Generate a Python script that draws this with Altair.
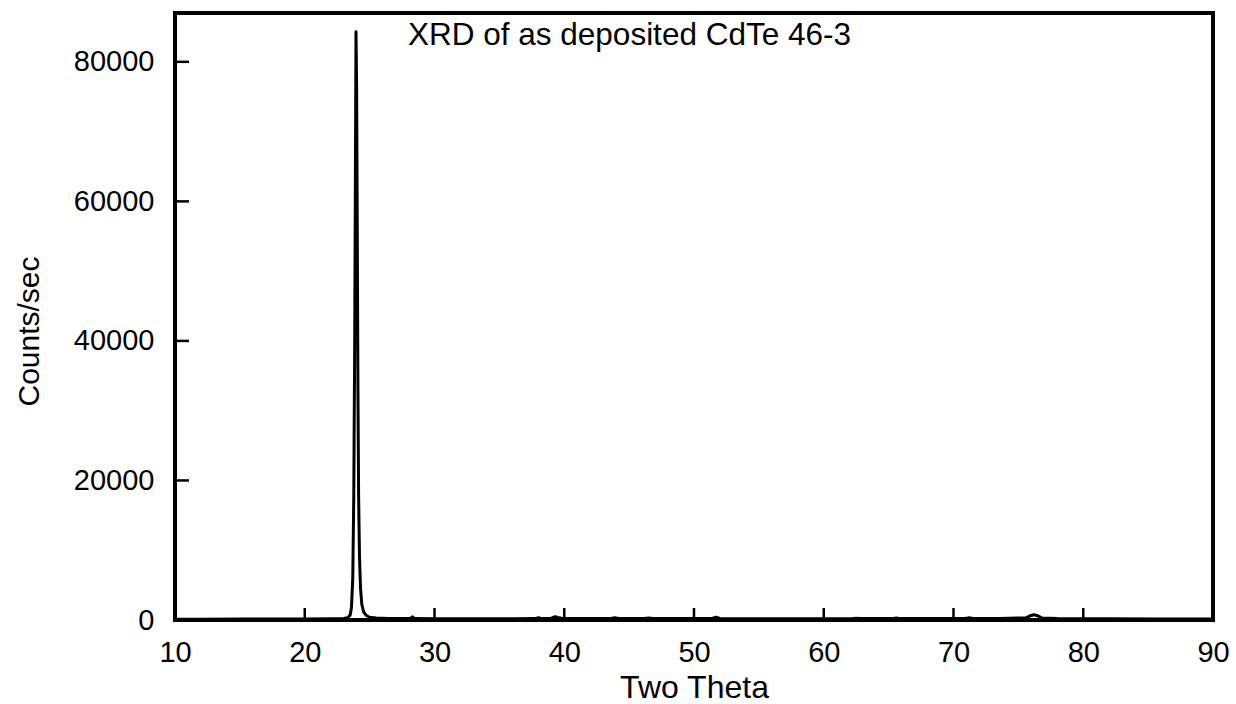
import altair as alt
import pandas as pd

# XRD scan of as-deposited CdTe film (sample 46-3)
two_theta = [10.0, 12.0, 15.0, 18.0, 20.0, 22.0, 23.0, 23.3, 23.5, 23.6, 23.7, 23.78,
             23.85, 23.9, 23.95, 24.0, 24.05, 24.1, 24.15, 24.22, 24.3, 24.4, 24.55,
             24.75, 25.0, 25.5, 26.5, 28.0, 28.2, 28.3, 28.4, 28.6, 30.0, 33.0, 36.0,
             37.8, 38.0, 38.2, 39.0, 39.3, 39.5, 39.8, 41.0, 43.6, 43.9, 44.2, 46.2,
             46.5, 46.8, 49.0, 51.4, 51.7, 52.0, 55.0, 58.0, 62.2, 62.5, 62.8, 65.3,
             65.6, 65.9, 68.0, 70.9, 71.2, 71.5, 73.5, 75.6, 75.9, 76.2, 76.5, 76.8,
             78.0, 82.0, 86.0, 90.0]
counts = [120, 120, 130, 140, 150, 170, 220, 320, 700, 1800, 6000, 18000,
          40000, 62000, 84300, 76000, 55000, 33000, 18000, 9000, 4500, 2200, 1100,
          650, 400, 280, 220, 200, 280, 450, 280, 200, 180, 180, 190,
          200, 330, 220, 260, 480, 380, 250, 220, 210, 330, 220, 220,
          300, 220, 200, 220, 400, 230, 180, 180, 190, 260, 200, 200,
          300, 200, 200, 230, 320, 230, 230, 300, 600, 750, 600, 300,
          220, 170, 150, 140]

x_labels = [10, 20, 30, 40, 50, 60, 70, 80, 90]
y_labels = [0, 20000, 40000, 60000, 80000]
x_ticks = [20, 30, 40, 50, 60, 70, 80]
y_ticks = [20000, 40000, 60000, 80000]

scan = pd.DataFrame({"theta": two_theta, "cps": counts})
xt = pd.DataFrame({"v": x_ticks})
yt = pd.DataFrame({"v": y_ticks})

W, H = 1038, 607
FONT = "Liberation Sans"

x_scale = alt.Scale(domain=[10, 90], nice=False, zero=False)
y_scale = alt.Scale(domain=[0, 87000], nice=False)

line = alt.Chart(scan).mark_line(color="black", strokeWidth=3, strokeJoin="round").encode(
    x=alt.X("theta:Q", scale=x_scale,
            axis=alt.Axis(title="Two Theta", values=x_labels,
                          domain=False, ticks=False, grid=False, labelPadding=18,
                          labelFontSize=29, titleFontSize=32, titleFontWeight="normal",
                          titlePadding=5, labelColor="black", titleColor="black",
                          labelFont=FONT, titleFont=FONT, labelFlush=False)),
    y=alt.Y("cps:Q", scale=y_scale,
            axis=alt.Axis(title="Counts/sec", values=y_labels,
                          domain=False, ticks=False, grid=False, labelPadding=21,
                          labelFontSize=29, titleFontSize=30, titleFontWeight="normal",
                          titlePadding=29, titleY=318, labelColor="black", titleColor="black",
                          labelFont=FONT, titleFont=FONT, format="d")),
)

# inward tick marks on the bottom and left frame edges
xticks = alt.Chart(xt).mark_rule(color="black", strokeWidth=2.5).encode(
    x=alt.X("v:Q", scale=x_scale), y=alt.value(H), y2=alt.value(H - 12))
yticks = alt.Chart(yt).mark_rule(color="black", strokeWidth=2.5).encode(
    y=alt.Y("v:Q", scale=y_scale), x=alt.value(0), x2=alt.value(14))

label = alt.Chart(pd.DataFrame({"t": ["XRD of as deposited CdTe 46-3"]})).mark_text(
    align="left", baseline="middle", fontSize=31.5, font=FONT, color="black"
).encode(text="t:N", x=alt.value(233), y=alt.value(23))

chart = alt.layer(line, xticks, yticks, label).properties(
    width=W, height=H,
    background="white",
    autosize=alt.AutoSizeParams(type="none"),
    padding={"left": 175, "top": 13, "right": 23, "bottom": 84},
).configure_view(stroke="black", strokeWidth=4)

chart.save("out.html", embed_options={"renderer": "svg", "actions": False})
